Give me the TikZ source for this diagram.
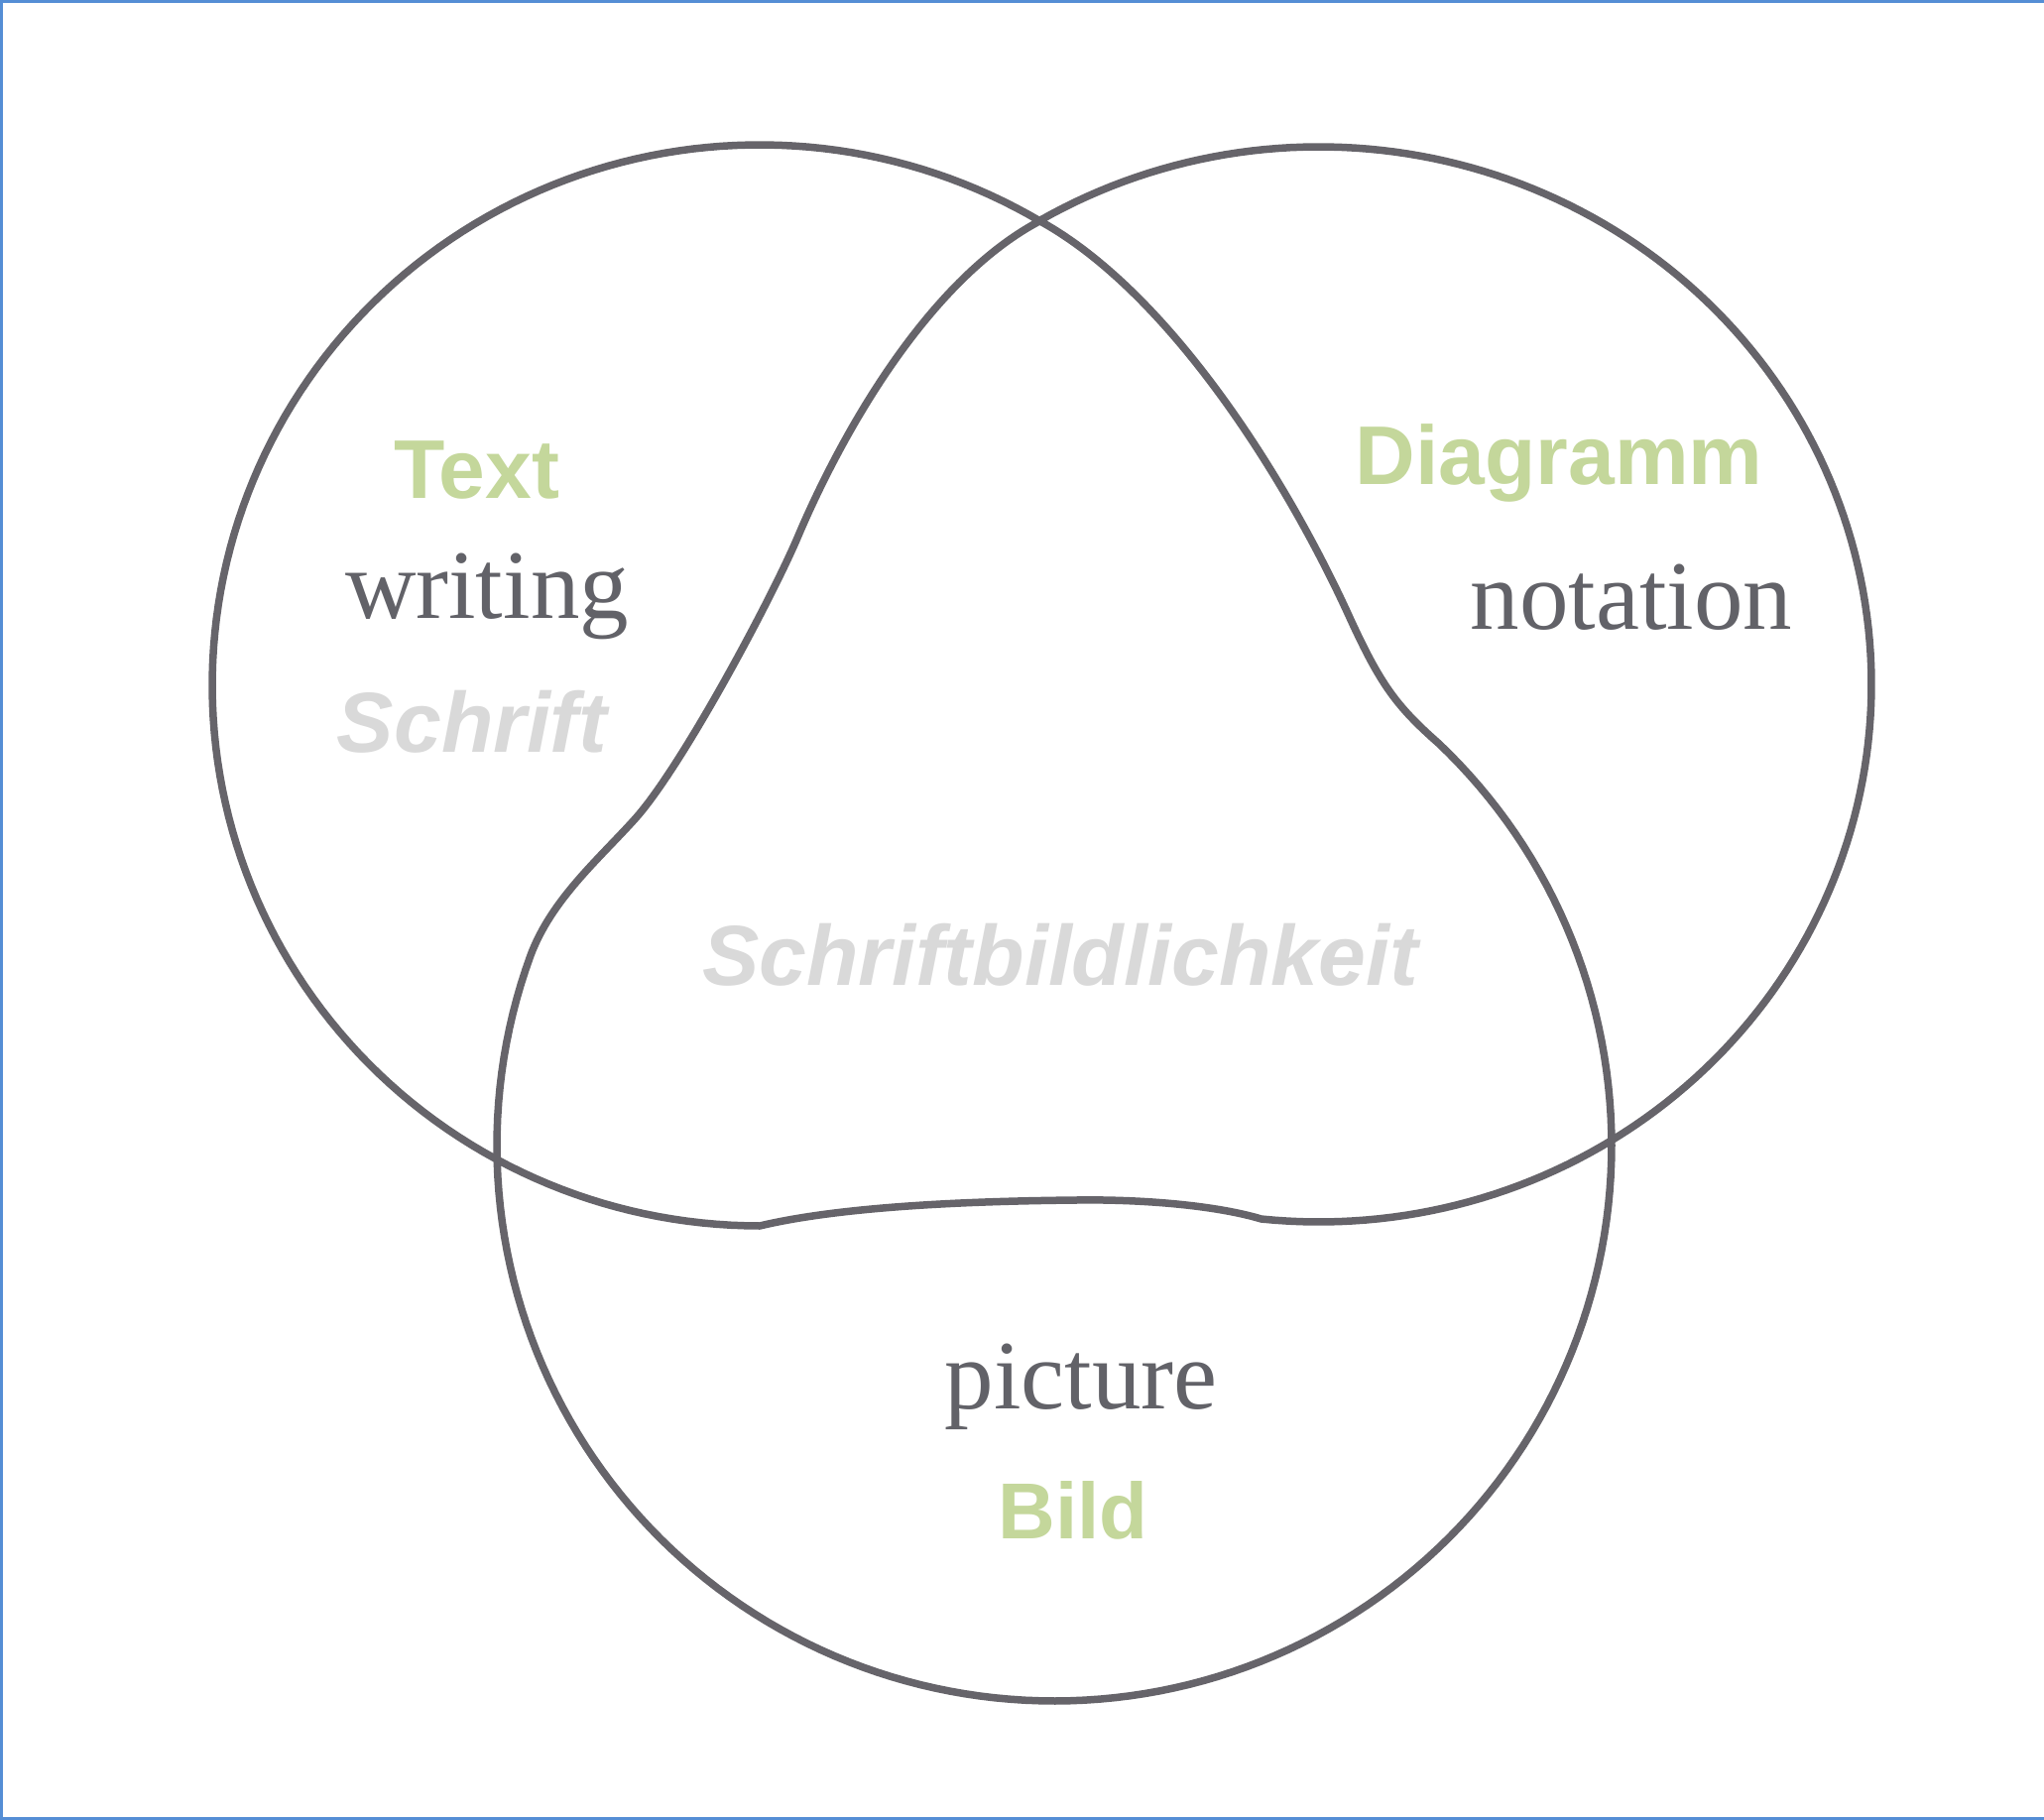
\documentclass[tikz,border=0pt]{standalone}
\usepackage{fontspec}
\setmainfont{Liberation Serif}
\newfontfamily\labsans{Liberation Sans}
\definecolor{ringc}{RGB}{102,100,106}
\definecolor{greenc}{RGB}{196,215,155}
\definecolor{lightg}{RGB}{217,217,217}
\definecolor{serifc}{RGB}{98,98,104}
\definecolor{framec}{RGB}{85,142,213}
\tikzset{
  ring/.style={draw=ringc, line width=7.5pt, line join=round},
  frameline/.style={draw=framec, line width=3pt},
  greenlab/.style={font={\labsans\bfseries\fontsize{84}{100}\selectfont}, text=greenc, inner sep=0pt, anchor=base},
  greylab/.style={font={\labsans\bfseries\itshape\fontsize{86}{100}\selectfont}, text=lightg, inner sep=0pt, anchor=base},
  seriflab/.style={font={\fontsize{99}{110}\selectfont}, text=serifc, inner sep=0pt, anchor=base}
}
\begin{document}
\begin{tikzpicture}[x=1pt, y=-1pt]
\useasboundingbox (0,0) rectangle (2061,1835);
\fill[white] (0,0) rectangle (2061,1835);
\draw[frameline] (2061,1.5) -- (1.5,1.5) -- (1.5,1833.5) -- (2061,1833.5);

% one closed self-crossing curve forming the three regions
\draw[ring]
  plot[domain=90:300.9, samples=140, variable=\t] ({766+552*cos(\t)},{691+545*sin(\t)})
  .. controls (1182,297) and (1300,488) .. (1362,625)
  .. controls (1392,690) and (1408,712) .. (1450,749)
  -- plot[domain=313.5:560, samples=160, variable=\t] ({1063+562*cos(\t)},{1155+560*sin(\t)})
  .. controls (556,907) and (603,867) .. (640,826)
  .. controls (687,774) and (778,604) .. (805,540)
  .. controls (848,439) and (935,282) .. (1050,222)
  -- plot[domain=239.8:456, samples=160, variable=\t] ({1330+557*cos(\t)},{690+542*sin(\t)})
  .. controls (1225,1215) and (1150,1209) .. (1085,1210)
  .. controls (980,1211) and (850,1216) .. cycle;

\node[greenlab] (text) at (481,502) {Text};
\node[seriflab] (writing) at (491,623) {writing};
\node[greylab] (schrift) at (476,758) {Schrift};
\node[greenlab] (diagramm) at (1572,488) {Diagramm};
\node[seriflab] (notation) at (1645,634) {notation};
\node[greylab] (sbl) at (1069,993) {Schriftbildlichkeit};
\node[seriflab] (picture) at (1090,1420) {picture};
\node[greenlab, font={\labsans\bfseries\fontsize{80}{100}\selectfont}] (bild) at (1082,1551) {Bild};
\end{tikzpicture}
\end{document}
